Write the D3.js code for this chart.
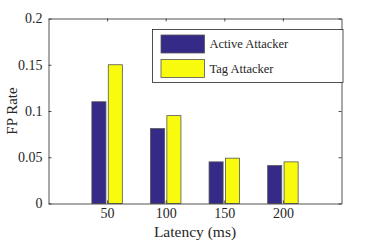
<!DOCTYPE html>
<html><head><meta charset="utf-8">
<script src="https://cdn.jsdelivr.net/npm/d3@7"></script>
</head><body style="margin:0;background:#fff">
<svg id="c" width="377" height="241" style="display:block"></svg>
<script>
const categories = [50, 100, 150, 200];
const seriesNames = ["Active Attacker", "Tag Attacker"];
const activeValues = [0.110, 0.081, 0.045, 0.041];
const tagValues = [0.150, 0.095, 0.049, 0.045];
const yTicks = [0, 0.05, 0.1, 0.15, 0.2];
const yTickLabels = ["0", "0.05", "0.1", "0.15", "0.2"];
const colors = ["#352A87", "#F9FB0E"];

const FONT = "Liberation Serif";
const svg = d3.select("#c");
const L = 48.5, R = 341.5, T = 18.5, B = 203.5;
const x = d3.scaleLinear().domain([0, 250]).range([L, R]);
const y = d3.scaleLinear().domain([0, 0.2]).range([B, T]);
const series = [activeValues, tagValues];
const offsets = [-7, 7];
const bw = 12;

series.forEach((vals, s) => {
  svg.append("g").selectAll("rect").data(categories).join("rect")
    .attr("x", (d) => x(d + offsets[s] - bw/2))
    .attr("width", (d) => x(d + offsets[s] + bw/2) - x(d + offsets[s] - bw/2))
    .attr("y", (d, i) => y(vals[i]))
    .attr("height", (d, i) => y(0) - y(vals[i]))
    .attr("fill", colors[s]).attr("stroke", "#555").attr("stroke-width", 0.8);
});

const ax = "#262626";
const gB = svg.append("g").attr("transform", `translate(0,${B})`)
  .call(d3.axisBottom(x).tickValues(categories).tickSizeInner(-3).tickSizeOuter(0).tickPadding(4.5));
const gT = svg.append("g").attr("transform", `translate(0,${T})`)
  .call(d3.axisTop(x).tickValues(categories).tickSizeInner(-3).tickSizeOuter(0).tickFormat(""));
const gL = svg.append("g").attr("transform", `translate(${L},0)`)
  .call(d3.axisLeft(y).tickValues(yTicks).tickFormat((d, i) => yTickLabels[i]).tickSizeInner(-3).tickSizeOuter(0).tickPadding(6));
const gR = svg.append("g").attr("transform", `translate(${R},0)`)
  .call(d3.axisRight(y).tickValues(yTicks).tickSizeInner(-3).tickSizeOuter(0).tickFormat(""));
[gB, gT, gL, gR].forEach(g => {
  g.attr("font-family", FONT);
  g.selectAll("path,line").attr("stroke", ax).attr("stroke-width", 0.8);
  g.selectAll("text").attr("font-family", FONT).attr("font-size", 14).attr("fill", ax);
});

svg.append("text").attr("x", 195).attr("y", 237).attr("text-anchor", "middle")
  .attr("font-family", FONT).attr("fill", ax).attr("font-size", 15.5).text("Latency (ms)");
svg.append("text").attr("transform", `translate(17,${(T + B) / 2}) rotate(-90)`).attr("text-anchor", "middle")
  .attr("font-family", FONT).attr("fill", ax).attr("font-size", 15).text("FP Rate");

const lg = svg.append("g");
lg.append("rect").attr("x", 152.5).attr("y", 29.5).attr("width", 190.5).attr("height", 53)
  .attr("fill", "#fff").attr("stroke", ax).attr("stroke-width", 0.8);
seriesNames.forEach((n, i) => {
  lg.append("rect").attr("x", 161).attr("y", 35 + i * 24.5).attr("width", 43.5).attr("height", 18)
    .attr("fill", colors[i]).attr("stroke", "#555").attr("stroke-width", 0.8);
  lg.append("text").attr("x", 209.5).attr("y", 44 + i * 24.5).attr("dy", "0.35em")
    .attr("font-family", FONT).attr("fill", ax).attr("font-size", 12.5).text(n);
});
</script>
</body></html>
